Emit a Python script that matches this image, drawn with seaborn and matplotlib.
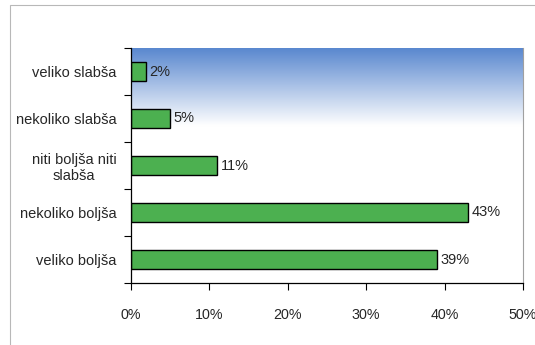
import numpy as np
import pandas as pd
import matplotlib
matplotlib.use("Agg")
import matplotlib.pyplot as plt
import seaborn as sns
from matplotlib.colors import LinearSegmentedColormap
from matplotlib.patches import Rectangle
from matplotlib.ticker import PercentFormatter

categories = ["veliko slabša", "nekoliko slabša", "niti boljša niti\nslabša", "nekoliko boljša", "veliko boljša"]
values = [2, 5, 11, 43, 39]
xticks = [0, 10, 20, 30, 40, 50]

sns.set_style("white")
plt.rcParams['font.family'] = ['Liberation Sans', 'DejaVu Sans']

df = pd.DataFrame({"cat": categories, "val": values})

W, H = 535, 345
L, R, T, B = 130.5, 523, 48, 283
fig = plt.figure(figsize=(W/100, H/100), dpi=100)
ax = fig.add_axes([L/W, 1-B/H, (R-L)/W, (B-T)/H])

# outer frame
fig.patches.append(Rectangle((10/W, -0.01), 1.0, 1 - 5/H + 0.01,
                             transform=fig.transFigure, fill=False,
                             edgecolor="#b8b8b8", linewidth=0.8))

# gradient background
cmap = LinearSegmentedColormap.from_list("g", [(0, "#5a88cf"), (0.33, "#ffffff"), (1, "#ffffff")])
grad = np.linspace(0, 1, 256).reshape(-1, 1)
ax.imshow(grad, extent=[0, 1, 0, 1], transform=ax.transAxes, aspect="auto",
          cmap=cmap, origin="upper", zorder=0)

sns.barplot(data=df, y="cat", x="val", orient="h", color="#4cb050",
            edgecolor="black", linewidth=1.0, width=0.41, saturation=1, ax=ax, zorder=2)

for i, v in enumerate(values):
    ax.text(v + 0.45, i, f"{v}%", va="center", ha="left", fontsize=10.5, zorder=3)

ax.set_xlim(0, 50)
ax.set_ylim(4.5, -0.5)
ax.set_xticks(xticks)
ax.xaxis.set_major_formatter(PercentFormatter(decimals=0))
ax.set_xlabel("")
ax.set_ylabel("")
ax.set_yticks(np.arange(-0.5, 5, 1), minor=False)
ax.set_yticklabels([])
ax.set_yticks(range(5), minor=True)
ax.set_yticklabels(categories, minor=True, fontsize=10.5, ha="right")
ax.tick_params(axis="y", which="minor", length=0, pad=10)
ax.tick_params(axis="y", which="major", length=5, width=0.8, direction="out", left=True, color="black")
ax.tick_params(axis="x", length=5, width=0.8, direction="out", bottom=True, color="black", labelsize=10.3, pad=13)
for lab in ax.get_yticklabels(minor=True):
    lab.set_multialignment("center")

ax.spines["top"].set_visible(False)
ax.spines["right"].set_color("#a0a0a0")
ax.spines["right"].set_linewidth(0.8)
ax.spines["left"].set_color("black")
ax.spines["bottom"].set_color("black")
ax.spines["left"].set_linewidth(0.9)
ax.spines["bottom"].set_linewidth(0.9)

fig.savefig("out.png", dpi=100)
